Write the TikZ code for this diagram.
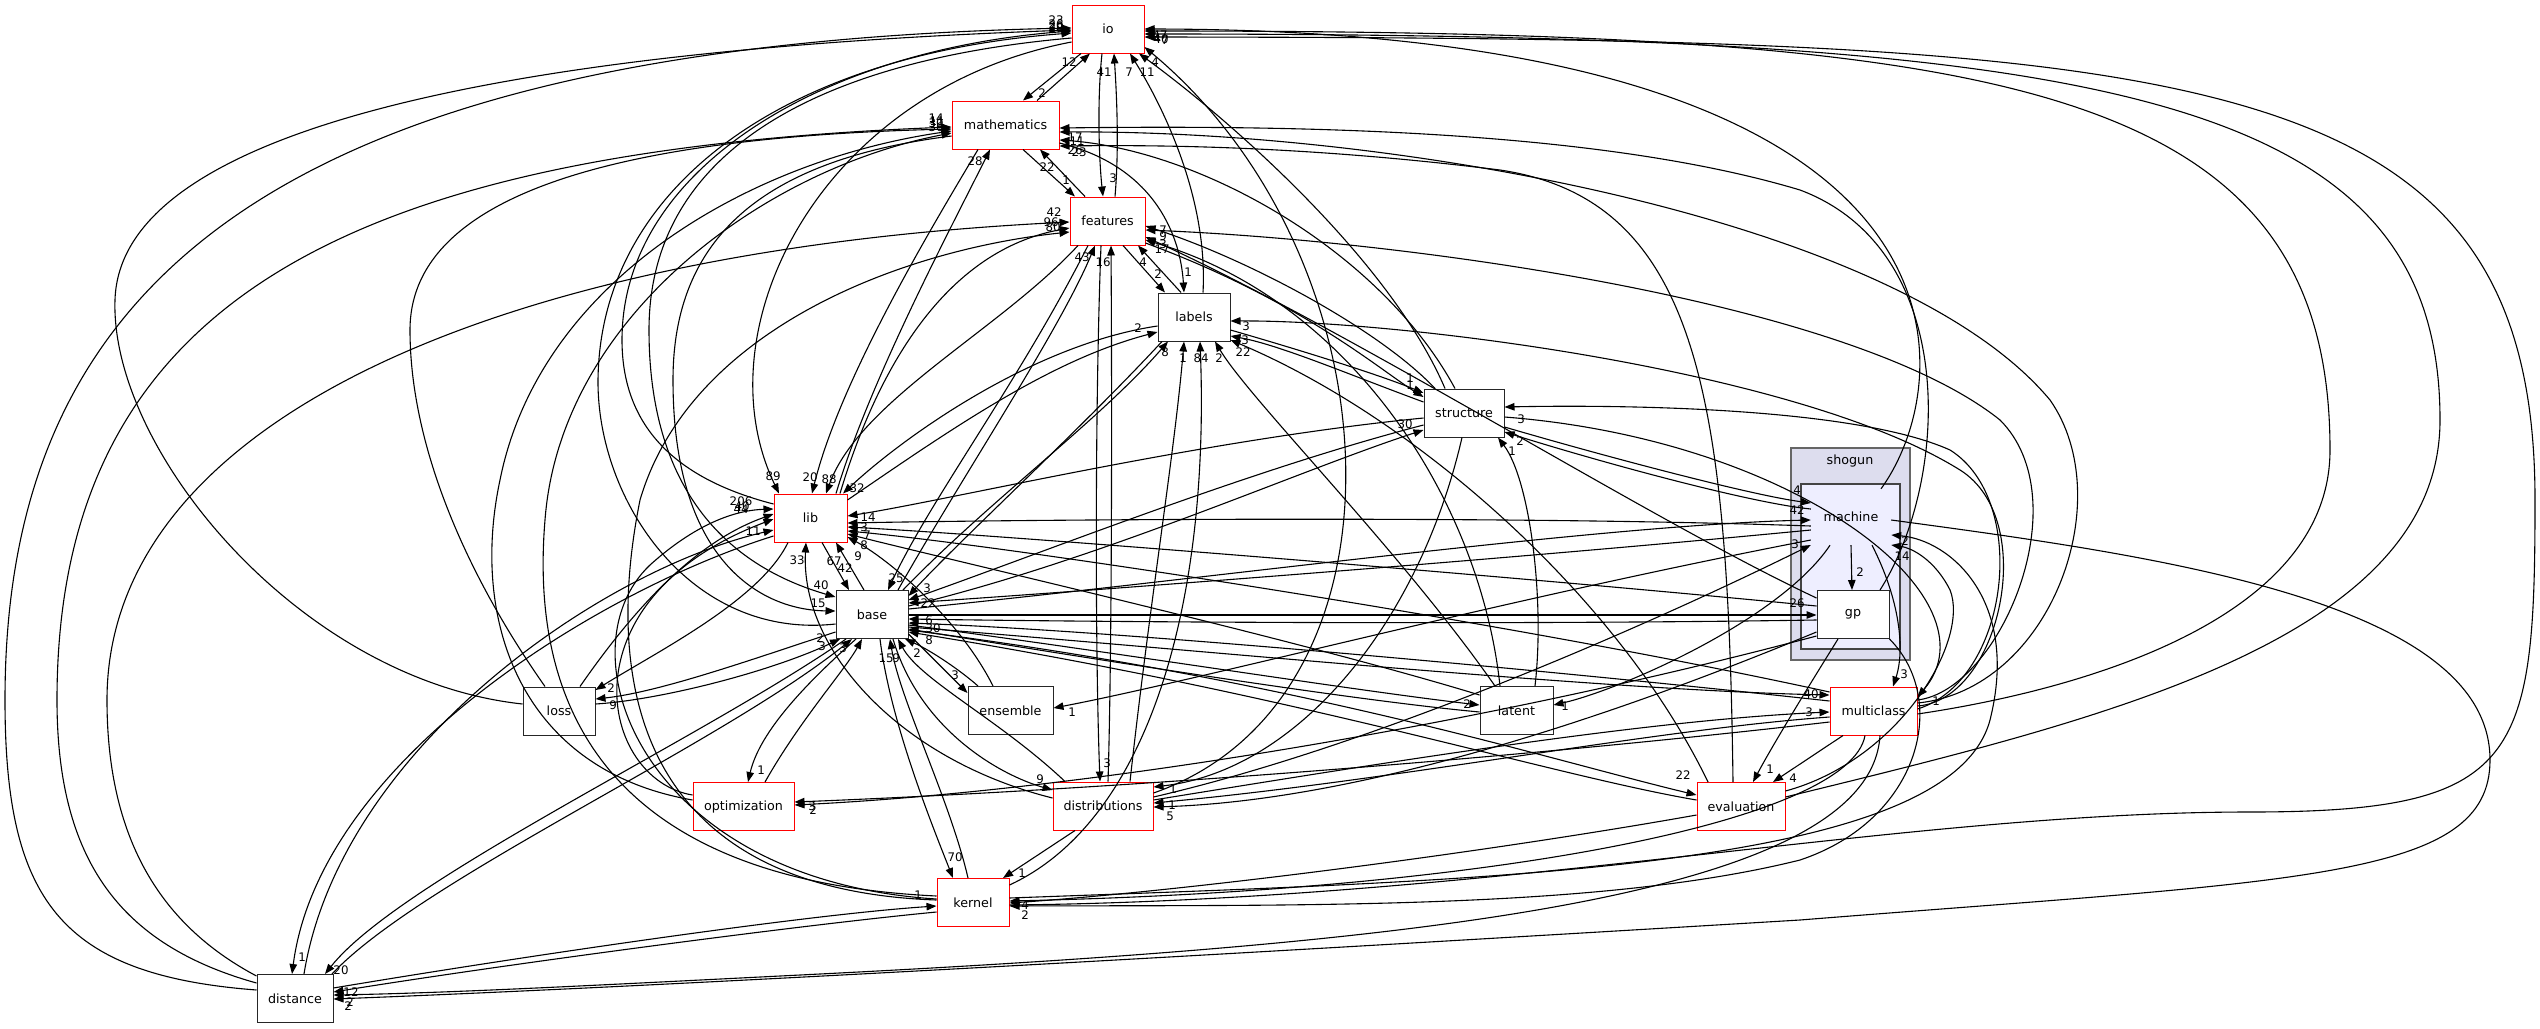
\documentclass[tikz,border=0pt]{standalone}
\usepackage{fontspec}
\setmainfont{DejaVu Sans}
\usetikzlibrary{arrows.meta}
\definecolor{clfill}{HTML}{DDDDEE}
\definecolor{clline}{HTML}{666666}
\definecolor{infill}{HTML}{EEEEFF}
\definecolor{inline}{HTML}{444444}
\begin{document}
\begin{tikzpicture}[x=1pt,y=-1pt,
  dirbox/.style={draw=black!85,fill=white,line width=1.0pt,minimum height=48pt,inner sep=0pt,font=\fontsize{12.7}{14}\selectfont},
  reddir/.style={dirbox,draw=red},
  dep/.style={line width=1.1pt,-{Triangle[length=10pt,width=7.5pt]}},
  lab/.style={inner sep=0pt,font=\fontsize{11.8}{13}\selectfont}]
\fill[white] (0,0) rectangle (2540,1028);
\useasboundingbox (0,0) rectangle (2540,1028);
% clusters
\node[draw=clline,fill=clfill,line width=1.4pt,minimum width=119pt,minimum height=212pt,inner sep=0pt] (shogun) at (1850.5,554) {};
\node[font=\fontsize{12.7}{14}\selectfont,inner sep=0pt] (shoguntxt) at (1850,461) {shogun};
\node[draw=inline,fill=infill,line width=1.4pt,minimum width=99pt,minimum height=165pt,inner sep=0pt] (machinebox) at (1850.5,566.5) {};
\node[inner sep=0pt,minimum width=80pt,minimum height=56pt,font=\fontsize{12.7}{14}\selectfont] (machine) at (1851,517) {machine};
% nodes
\node[reddir,minimum width=72pt] (io) at (1108,29) {io};
\node[reddir,minimum width=107pt] (math) at (1005.5,125) {mathematics};
\node[reddir,minimum width=75pt] (feat) at (1107.5,221) {features};
\node[dirbox,minimum width=72pt] (labels) at (1194,317) {labels};
\node[dirbox,minimum width=80pt] (struct) at (1464,413) {structure};
\node[reddir,minimum width=73pt] (lib) at (810.5,518) {lib};
\node[dirbox,minimum width=72pt] (base) at (872,614.5) {base};
\node[dirbox,minimum width=85pt] (ens) at (1010.5,710.5) {ensemble};
\node[dirbox,minimum width=72pt] (loss) at (559,711) {loss};
\node[dirbox,minimum width=73pt] (latent) at (1516.5,710.5) {latent};
\node[reddir,minimum width=87pt] (multi) at (1873.5,711) {multiclass};
\node[reddir,minimum width=101pt] (opt) at (743.5,806.5) {optimization};
\node[reddir,minimum width=100pt] (distr) at (1103,806) {distributions};
\node[reddir,minimum width=88pt] (eval) at (1741,806.5) {evaluation};
\node[reddir,minimum width=72pt] (kernel) at (973,902.5) {kernel};
\node[dirbox,minimum width=76pt] (dist) at (295,998.5) {distance};
\node[dirbox,minimum width=72pt] (gp) at (1853,614.5) {gp};

% ---- io
\draw[dep] (math.north -| 1037,0) -- (io.south -| 1090,0); \node[lab] (l1) at (1069,62) {12};
\draw[dep] (io.south -| 1081,0) -- (math.north -| 1023,0); \node[lab] (l2) at (1042,93) {2};
\draw[dep] (io.south -| 1102,0) .. controls (1097,100) and (1099,160) .. (feat.north -| 1103,0); \node[lab] (l3) at (1113,178) {3};
\draw[dep] (feat.north -| 1115,0) .. controls (1119,150) and (1117,100) .. (io.south -| 1114,0); \node[lab] (l4) at (1104,72) {41};
\draw[dep] (labels.north -| 1203,0) .. controls (1208,200) and (1165,110) .. (io.south -| 1130,0); \node[lab] (l5) at (1129,72) {7};
\draw[dep] (struct.north -| 1445,0) .. controls (1390,260) and (1230,120) .. (io.south -| 1139,0); \node[lab] (l6) at (1147,72) {11};
\draw[dep] (distr.east |- 0,793) .. controls (1420,700) and (1400,260) .. (io.east |- 0,47); \node[lab] (l7) at (1155,62) {4};
\draw[dep] (machine.north -| 1881,0) .. controls (1960,380) and (2000,30) .. (io.east |- 0,29); \node[lab] (l8) at (1160,35) {47};
\draw[dep] (multi.east |- 0,714) .. controls (2080,690) and (2330,620) .. (2330,450) .. controls (2330,80) and (2000,31) .. (io.east |- 0,31); \node[lab] (l9) at (1161,39) {40};
\draw[dep] (eval.east |- 0,797) .. controls (2100,720) and (2440,640) .. (2440,420) .. controls (2440,90) and (2100,34) .. (io.east |- 0,34); \node[lab] (l10) at (1157,38) {4};
\draw[dep] (kernel.east |- 0,905) .. controls (1500,900) and (1900,812) .. (2250,812) .. controls (2520,812) and (2535,760) .. (2535,500) .. controls (2535,60) and (2200,38) .. (io.east |- 0,37); \node[lab] (l11) at (1165,40) {7};
\draw[dep] (dist.west |- 0,990) .. controls (60,975) and (5,900) .. (5,700) .. controls (5,300) and (250,45) .. (io.west |- 0,28); \node[lab] (l12) at (1056,20) {23};
\draw[dep] (loss.west |- 0,704) .. controls (300,680) and (110,450) .. (115,300) .. controls (120,130) and (500,50) .. (io.west |- 0,30); \node[lab] (l13) at (1056,24) {26};
\draw[dep] (lib.west |- 0,504) .. controls (680,480) and (622,430) .. (622,340) .. controls (622,170) and (820,50) .. (io.west |- 0,31); \node[lab] (l14) at (1056,28) {28};
\draw[dep] (base.west |- 0,624) .. controls (690,640) and (597,500) .. (598,380) .. controls (600,190) and (780,55) .. (io.west |- 0,33); \node[lab] (l15) at (1056,26) {20};
\draw[dep] (io.west |- 0,38) .. controls (820,60) and (649,150) .. (649,330) .. controls (649,520) and (760,575) .. (base.west |- 0,597); \node[lab] (l16) at (821,585) {40};
\draw[dep] (io.west |- 0,42) .. controls (820,90) and (700,330) .. (lib.north -| 779,0); \node[lab] (l17) at (773,476) {89};

% ---- mathematics
\draw[dep] (math.west |- 0,136) .. controls (760,160) and (673,240) .. (673,380) .. controls (673,560) and (760,610) .. (base.west |- 0,611); \node[lab] (l18) at (818,603) {15};
\draw[dep] (lib.north -| 836,0) .. controls (870,380) and (950,230) .. (math.south -| 990,0); \node[lab] (l19) at (975,161) {28};
\draw[dep] (math.south -| 978,0) .. controls (930,230) and (840,380) .. (lib.north -| 812,0); \node[lab] (l20) at (810,477) {20};
\draw[dep] (feat.north -| 1085,0) -- (math.south -| 1040,0); \node[lab] (l21) at (1047,167) {22};
\draw[dep] (math.south -| 1023,0) -- (feat.north -| 1075,0); \node[lab] (l22) at (1066,180) {1};
\draw[dep] (dist.west |- 0,983) .. controls (120,945) and (57,860) .. (57,700) .. controls (57,300) and (350,150) .. (math.west |- 0,127); \node[lab] (l23) at (936,118) {14};
\draw[dep] (loss.north -| 545,0) .. controls (470,580) and (410,450) .. (410,330) .. controls (410,170) and (700,135) .. (math.west |- 0,129); \node[lab] (l24) at (936,123) {30};
\draw[dep] (opt.west |- 0,800) .. controls (520,770) and (470,620) .. (500,480) .. controls (540,280) and (750,160) .. (math.west |- 0,131); \node[lab] (l25) at (936,127) {36};
\draw[dep] (kernel.west |- 0,896) .. controls (600,880) and (530,700) .. (545,520) .. controls (560,320) and (760,170) .. (math.west |- 0,133); \node[lab] (l26) at (937,121) {11};
\draw[dep] (struct.north -| 1455,0) .. controls (1380,250) and (1200,150) .. (math.east |- 0,140); \node[lab] (l27) at (1075,137) {17};
\draw[dep] (math.east |- 0,143) .. controls (1150,165) and (1180,230) .. (labels.north -| 1184,0); \node[lab] (l28) at (1188,272) {1};
\draw[dep] (gp.north -| 1880,0) .. controls (1950,480) and (1960,250) .. (1800,190) .. controls (1600,130) and (1300,125) .. (math.east |- 0,128); \node[lab] (l29) at (1077,141) {11};
\draw[dep] (multi.east |- 0,703) .. controls (2050,690) and (2120,500) .. (2050,400) .. controls (1900,220) and (1400,130) .. (math.east |- 0,132); \node[lab] (l30) at (1075,150) {26};
\draw[dep] (eval.north -| 1733,0) .. controls (1728,400) and (1700,200) .. (1500,170) .. controls (1300,145) and (1150,145) .. (math.east |- 0,146); \node[lab] (l31) at (1079,152) {23};

% ---- features
\draw[dep] (dist.west |- 0,976) .. controls (170,930) and (107,850) .. (107,700) .. controls (107,420) and (500,250) .. (feat.west |- 0,222); \node[lab] (l32) at (1054,212) {42};
\draw[dep] (lib.north -| 840,0) .. controls (880,360) and (950,250) .. (feat.west |- 0,228); \node[lab] (l33) at (1051,222) {96};
\draw[dep] (kernel.west |- 0,900) .. controls (650,890) and (600,700) .. (640,500) .. controls (690,330) and (900,250) .. (feat.west |- 0,232); \node[lab] (l34) at (1053,227) {80};
\draw[dep] (feat.south -| 1088,0) .. controls (1020,380) and (930,500) .. (base.north -| 888,0); \node[lab] (l35) at (896,578) {25};
\draw[dep] (base.north -| 898,0) .. controls (960,480) and (1060,330) .. (feat.south -| 1095,0); \node[lab] (l36) at (1082,257) {43};
\draw[dep] (feat.south -| 1101,0) .. controls (1095,400) and (1095,650) .. (distr.north -| 1100,0); \node[lab] (l37) at (1107,763) {3};
\draw[dep] (distr.north -| 1108,0) .. controls (1112,650) and (1112,400) .. (feat.south -| 1111,0); \node[lab] (l38) at (1103,262) {16};
\draw[dep] (feat.south -| 1123,0) -- (labels.north -| 1165,0); \node[lab] (l39) at (1158,274) {2};
\draw[dep] (labels.north -| 1181,0) -- (feat.south -| 1138,0); \node[lab] (l40) at (1143,262) {4};
\draw[dep] (struct.north -| 1435,0) .. controls (1380,330) and (1250,260) .. (feat.east |- 0,226); \node[lab] (l41) at (1163,230) {7};
\draw[dep] (multi.east |- 0,700) .. controls (2000,690) and (2080,500) .. (2000,420) .. controls (1850,300) and (1400,240) .. (feat.east |- 0,230); \node[lab] (l42) at (1163,236) {9};
\draw[dep] (gp.west |- 0,598) .. controls (1650,520) and (1350,330) .. (feat.east |- 0,237); \node[lab] (l43) at (1162,249) {17};
\draw[dep] (latent.north -| 1500,0) .. controls (1480,500) and (1350,300) .. (feat.east |- 0,240); \node[lab] (l44) at (1163,244) {3};
\draw[dep] (feat.east |- 0,243) .. controls (1300,300) and (1380,370) .. (struct.west |- 0,397); \node[lab] (l45) at (1410,378) {1};

% ---- labels
\draw[dep] (lib.east |- 0,500) .. controls (950,430) and (1050,360) .. (labels.west |- 0,332); \node[lab] (l46) at (1138,328) {2};
\draw[dep] (labels.west |- 0,326) .. controls (1030,345) and (900,440) .. (lib.north -| 843,0); \node[lab] (l47) at (857,488) {32};
\draw[dep] (base.north -| 903,0) .. controls (990,500) and (1100,420) .. (labels.south -| 1168,0); \node[lab] (l48) at (1165,352) {8};
\draw[dep] (labels.south -| 1162,0) .. controls (1080,430) and (960,540) .. (base.east |- 0,596); \node[lab] (l49) at (927,588) {3};
\draw[dep] (distr.north -| 1130,0) .. controls (1150,600) and (1175,450) .. (labels.south -| 1184,0); \node[lab] (l50) at (1183,358) {1};
\draw[dep] (kernel.east |- 0,885) .. controls (1150,820) and (1210,600) .. (labels.south -| 1200,0); \node[lab] (l51) at (1201,358) {84};
\draw[dep] (latent.north -| 1495,0) .. controls (1400,550) and (1250,400) .. (labels.south -| 1215,0); \node[lab] (l52) at (1219,358) {2};
\draw[dep] (labels.east |- 0,330) .. controls (1300,350) and (1380,375) .. (struct.west |- 0,393); \node[lab] (l53) at (1410,385) {1};
\draw[dep] (struct.west |- 0,402) .. controls (1350,375) and (1280,345) .. (labels.east |- 0,336); \node[lab] (l54) at (1245,340) {3};
\draw[dep] (multi.east |- 0,706) .. controls (2000,700) and (2040,520) .. (1960,470) .. controls (1800,370) and (1400,320) .. (labels.east |- 0,321); \node[lab] (l55) at (1246,326) {3};
\draw[dep] (eval.north -| 1708,0) .. controls (1620,600) and (1420,420) .. (labels.east |- 0,340); \node[lab] (l56) at (1243,352) {22};

% ---- structure
\draw[dep] (base.east |- 0,606) .. controls (1100,560) and (1300,470) .. (struct.west |- 0,430); \node[lab] (l57) at (1405,424) {30};
\draw[dep] (struct.west |- 0,425) .. controls (1250,470) and (1050,550) .. (base.east |- 0,600);
\draw[dep] (struct.west |- 0,418) .. controls (1200,440) and (950,500) .. (lib.east |- 0,516); \node[lab] (l59) at (868,517) {14};
\draw[dep] (struct.east |- 0,427) .. controls (1600,455) and (1750,495) .. (machine.west |- 0,503); \node[lab] (l60) at (1797,490) {4};
\draw[dep] (machine.west |- 0,509) .. controls (1750,503) and (1600,462) .. (struct.east |- 0,432); \node[lab] (l61) at (1520,441) {2};
\draw[dep] (multi.east |- 0,709) .. controls (2010,680) and (2030,500) .. (1950,450) .. controls (1850,405) and (1600,405) .. (struct.east |- 0,407); \node[lab] (l62) at (1521,419) {3};
\draw[dep] (latent.north -| 1535,0) .. controls (1545,600) and (1530,480) .. (struct.south -| 1498,0); \node[lab] (l63) at (1512,451) {1};
\draw[dep] (struct.south -| 1462,0) .. controls (1420,620) and (1300,770) .. (distr.east |- 0,787); \node[lab] (l64) at (1173,789) {1};
\draw[dep] (struct.east |- 0,417) .. controls (1800,440) and (2000,600) .. (multi.east |- 0,697); \node[lab] (l65) at (1936,701) {1};

% ---- lib
\draw[dep] (distr.west |- 0,798) .. controls (900,760) and (800,650) .. (lib.south -| 806,0); \node[lab] (l66) at (797,560) {33};
\draw[dep] (kernel.west |- 0,899) .. controls (640,880) and (560,650) .. (650,565) .. controls (700,520) and (740,510) .. (lib.west |- 0,509); \node[lab] (l67) at (741,501) {206};
\draw[dep] (loss.north -| 580,0) .. controls (640,600) and (700,540) .. (lib.west |- 0,514); \node[lab] (l68) at (741,509) {44};
\draw[dep] (opt.west |- 0,795) .. controls (600,780) and (560,600) .. (lib.west |- 0,519); \node[lab] (l69) at (742,506) {40};
\draw[dep] (dist.north -| 304,0) .. controls (340,750) and (600,570) .. (lib.west |- 0,530); \node[lab] (l70) at (753,531) {11};
\draw[dep] (lib.west |- 0,536) .. controls (600,590) and (320,760) .. (dist.north -| 292,0); \node[lab] (l71) at (302,957) {1};
\draw[dep] (machine.west |- 0,526) .. controls (1500,515) and (1000,520) .. (lib.east |- 0,523); \node[lab] (l72) at (864,527) {3};
\draw[dep] (gp.west |- 0,606) .. controls (1500,575) and (1000,535) .. (lib.east |- 0,527); \node[lab] (l73) at (867,535) {7};
\draw[dep] (multi.west |- 0,692) .. controls (1500,620) and (1000,545) .. (lib.east |- 0,531); \node[lab] (l74) at (864,545) {8};
\draw[dep] (ens.north -| 993,0) .. controls (960,620) and (890,560) .. (lib.east |- 0,537); \node[lab] (l75) at (858,556) {9};
\draw[dep] (lib.south -| 822,0) -- (base.north -| 849,0); \node[lab] (l76) at (845,568) {42};
\draw[dep] (base.north -| 864,0) -- (lib.south -| 836,0); \node[lab] (l77) at (834,561) {67};
\draw[dep] (latent.west |- 0,695) .. controls (1300,640) and (950,560) .. (lib.east |- 0,534);
\draw[dep] (feat.south -| 1078,0) .. controls (1000,330) and (860,400) .. (lib.north -| 826,0); \node[lab] (l78) at (829,479) {88};

% ---- base
\draw[dep] (lib.south -| 788,0) .. controls (760,600) and (660,650) .. (loss.east |- 0,690); \node[lab] (l79) at (611,688) {2};
\draw[dep] (base.west |- 0,632) .. controls (750,660) and (660,692) .. (loss.east |- 0,699); \node[lab] (l80) at (613,705) {9};
\draw[dep] (loss.east |- 0,704) .. controls (660,700) and (770,672) .. (base.south -| 840,0); \node[lab] (l81) at (822,646) {3};
\draw[dep] (base.south -| 846,0) .. controls (700,740) and (400,880) .. (dist.north -| 325,0); \node[lab] (l82) at (341,970) {20};
\draw[dep] (dist.north -| 332,0) .. controls (420,880) and (720,745) .. (base.south -| 852,0); \node[lab] (l83) at (820,638) {2};
\draw[dep] (opt.north -| 765,0) .. controls (800,720) and (845,670) .. (base.south -| 862,0); \node[lab] (l84) at (843,648) {3};
\draw[dep] (base.south -| 856,0) .. controls (810,680) and (760,730) .. (opt.north -| 748,0); \node[lab] (l85) at (761,770) {1};
\draw[dep] (base.south -| 880,0) .. controls (890,720) and (930,820) .. (kernel.north -| 953,0); \node[lab] (l86) at (955,857) {70};
\draw[dep] (kernel.north -| 968,0) .. controls (950,800) and (900,700) .. (base.south -| 890,0); \node[lab] (l87) at (886,658) {15};
\draw[dep] (distr.north -| 1065,0) .. controls (1000,720) and (920,680) .. (base.south -| 898,0); \node[lab] (l88) at (896,658) {9};
\draw[dep] (base.south -| 893,0) .. controls (920,730) and (1000,775) .. (distr.west |- 0,790); \node[lab] (l89) at (1040,779) {9};
\draw[dep] (base.east |- 0,634) -- (ens.west |- 0,693); \node[lab] (l90) at (955,675) {3};
\draw[dep] (ens.north -| 978,0) .. controls (960,670) and (930,650) .. (base.south -| 905,0); \node[lab] (l91) at (917,653) {2};
\draw[dep] (machine.west |- 0,530) .. controls (1500,560) and (1100,590) .. (base.east |- 0,603); \node[lab] (l92) at (928,603) {22};
\draw[dep] (base.east |- 0,609) .. controls (1200,580) and (1600,525) .. (machine.west |- 0,520); \node[lab] (l93) at (1797,510) {42};
\draw[dep] (base.east |- 0,615) -- (gp.west |- 0,615); \node[lab] (l94) at (1797,603) {26};
\draw[dep] (gp.west |- 0,620) .. controls (1500,625) and (1100,622) .. (base.east |- 0,619); \node[lab] (l95) at (929,620) {6};
\draw[dep] (multi.west |- 0,701) .. controls (1500,665) and (1100,630) .. (base.east |- 0,623); \node[lab] (l96) at (933,628) {30};
\draw[dep] (base.east |- 0,627) .. controls (1200,650) and (1600,690) .. (multi.west |- 0,695); \node[lab] (l97) at (1811,694) {40};
\draw[dep] (base.east |- 0,630) .. controls (1300,680) and (1550,760) .. (eval.west |- 0,795); \node[lab] (l98) at (1683,775) {22};
\draw[dep] (eval.west |- 0,800) .. controls (1550,775) and (1300,695) .. (base.east |- 0,632); \node[lab] (l99) at (929,640) {8};
\draw[dep] (base.east |- 0,625) .. controls (1100,650) and (1350,690) .. (latent.west |- 0,705); \node[lab] (l100) at (1467,704) {2};
\draw[dep] (latent.west |- 0,712) .. controls (1350,700) and (1100,660) .. (base.east |- 0,629);

% ---- machine, gp, multiclass, evaluation, kernel, distance
\draw[dep] (machine.south -| 1851,0) -- (gp.north -| 1852,0); \node[lab] (l101) at (1860,572) {2};
\draw[dep] (machine.south -| 1872,0) .. controls (1900,600) and (1905,650) .. (multi.north -| 1893,0); \node[lab] (l102) at (1904,674) {3};
\draw[dep] (gp.south -| 1838,0) .. controls (1800,700) and (1770,750) .. (eval.north -| 1753,0); \node[lab] (l103) at (1770,769) {1};
\draw[dep] (multi.south -| 1843,0) -- (eval.north -| 1773,0); \node[lab] (l104) at (1793,778) {4};
\draw[dep] (kernel.east |- 0,898) .. controls (1500,880) and (1950,870) .. (1990,720) .. controls (2020,600) and (1950,540) .. (machine.east |- 0,535); \node[lab] (l105) at (1905,541) {2};
\draw[dep] (eval.east |- 0,791) .. controls (1900,760) and (1970,640) .. (1950,590) .. controls (1935,560) and (1912,548) .. (machine.east |- 0,545); \node[lab] (l106) at (1902,556) {14};
\draw[dep] (distr.east |- 0,797) .. controls (1400,740) and (1700,600) .. (machine.west |- 0,545); \node[lab] (l107) at (1795,544) {3};
\draw[dep] (machine.south -| 1830,0) .. controls (1780,620) and (1620,690) .. (latent.east |- 0,705); \node[lab] (l108) at (1565,706) {1};
\draw[dep] (machine.west |- 0,540) .. controls (1500,600) and (1200,680) .. (ens.east |- 0,708); \node[lab] (l109) at (1072,712) {1};
\draw[dep] (machine.east |- 0,520) .. controls (2150,555) and (2490,600) .. (2490,760) .. controls (2490,880) and (2300,880) .. (1800,920) .. controls (1300,950) and (700,985) .. (dist.east |- 0,999); \node[lab] (l110) at (348,1006) {2};
\draw[dep] (multi.south -| 1880,0) .. controls (1870,900) and (1400,945) .. (800,975) .. controls (600,985) and (450,993) .. (dist.east |- 0,995); \node[lab] (l111) at (350,1002) {2};
\draw[dep] (dist.east |- 0,988) .. controls (500,960) and (800,915) .. (kernel.west |- 0,906); \node[lab] (l112) at (918,895) {1};
\draw[dep] (kernel.west |- 0,912) .. controls (800,925) and (500,965) .. (dist.east |- 0,992); \node[lab] (l113) at (351,992) {12};
\draw[dep] (distr.south -| 1075,0) -- (kernel.north -| 1003,0); \node[lab] (l114) at (1022,873) {1};
\draw[dep] (multi.south -| 1865,0) .. controls (1850,820) and (1500,890) .. (kernel.east |- 0,901); \node[lab] (l115) at (1025,905) {4};
\draw[dep] (eval.west |- 0,815) .. controls (1500,850) and (1200,890) .. (kernel.east |- 0,903); \node[lab] (l116) at (1025,915) {2};
\draw[dep] (gp.south east) .. controls (1950,700) and (1920,820) .. (1800,860) .. controls (1600,910) and (1300,905) .. (kernel.east |- 0,906);
\draw[dep] (distr.east |- 0,800) .. controls (1400,760) and (1650,720) .. (multi.west |- 0,712); \node[lab] (l117) at (1809,712) {3};
\draw[dep] (multi.west |- 0,717) .. controls (1650,730) and (1400,780) .. (distr.east |- 0,803); \node[lab] (l118) at (1172,805) {1};
\draw[dep] (gp.west |- 0,632) .. controls (1700,680) and (1400,800) .. (distr.east |- 0,807); \node[lab] (l119) at (1170,816) {5};
\draw[dep] (multi.west |- 0,722) .. controls (1500,760) and (1100,790) .. (opt.east |- 0,802); \node[lab] (l120) at (812,806) {3};
\draw[dep] (gp.west |- 0,636) .. controls (1500,720) and (1100,790) .. (opt.east |- 0,805); \node[lab] (l121) at (813,810) {2};
\end{tikzpicture}
\end{document}
